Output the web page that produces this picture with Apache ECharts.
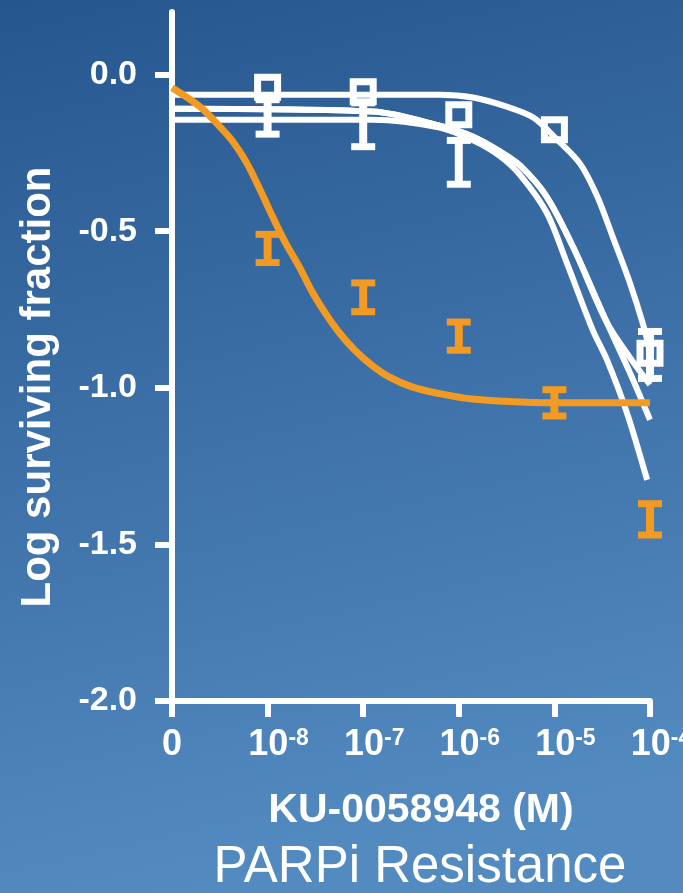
<!DOCTYPE html>
<html>
<head>
<meta charset="utf-8">
<script src="https://cdn.jsdelivr.net/npm/echarts@6/dist/echarts.min.js"></script>
<style>
  html, body { margin: 0; padding: 0; }
  #chart-container { width: 683px; height: 893px; }
</style>
</head>
<body>
<div id="chart-container"></div>
<script>
// x values are log10 of the dose; -9 stands for the "0" (no drug) position
var xTicks = [-9, -8, -7, -6, -5, -4];
var yTicks = [-2, -1.5, -1, -0.5, 0];

// fitted curves, [log10 dose, log surviving fraction]
var curveA = [[-9, -0.064], [-6.2, -0.064], [-5.85, -0.073], [-5.5, -0.102], [-5.22, -0.137],
  [-4.97, -0.208], [-4.73, -0.285], [-4.55, -0.39], [-4.39, -0.518], [-4.21, -0.665],
  [-4.07, -0.8], [-4, -0.885]];
var curveB = [[-9, -0.109], [-6.9, -0.118], [-6.2, -0.163], [-5.85, -0.198], [-5.57, -0.245],
  [-5.36, -0.29], [-5.08, -0.39], [-4.8, -0.553], [-4.45, -0.792], [-4.14, -0.933], [-4, -0.99]];
var curveC = [[-9, -0.109], [-6.9, -0.118], [-6.2, -0.163], [-5.85, -0.198], [-5.57, -0.245],
  [-5.36, -0.29], [-5.08, -0.39], [-4.8, -0.553], [-4.45, -0.792], [-4.21, -0.952], [-4, -1.102]];
var curveD = [[-9, -0.144], [-6.9, -0.144], [-6.2, -0.169], [-5.85, -0.21], [-5.57, -0.26],
  [-5.36, -0.32], [-5.08, -0.441], [-4.87, -0.601], [-4.6, -0.815], [-4.45, -0.911],
  [-4.24, -1.081], [-4.03, -1.294]];
var curveOrange = [[-9, -0.042], [-8.71, -0.102], [-8.5, -0.166], [-8.36, -0.215], [-8.22, -0.281],
  [-8.08, -0.367], [-7.95, -0.452], [-7.82, -0.533], [-7.67, -0.613], [-7.54, -0.69],
  [-7.4, -0.76], [-7.25, -0.824], [-7.09, -0.879], [-6.91, -0.928], [-6.73, -0.965],
  [-6.49, -0.997], [-6.21, -1.018], [-5.86, -1.036], [-5.05, -1.048], [-4, -1.048]];

// measured points
var squarePoints = [[-8, -0.04], [-7, -0.055], [-6, -0.128], [-5, -0.176], [-4, -0.89]];
// error bars, [log10 dose, low, high]
var whiteBars = [[-8, -0.19, -0.08], [-7, -0.23, -0.09], [-6, -0.35, -0.21], [-4, -0.97, -0.82]];
var orangeBars = [[-8, -0.6, -0.51], [-7, -0.757, -0.665], [-6, -0.88, -0.79],
  [-5, -1.09, -1.006], [-4, -1.47, -1.37]];

var WHITE = '#ffffff';
var ORANGE = '#f29a21';

var dom = document.getElementById('chart-container');
var myChart = echarts.init(dom, null, { renderer: 'canvas' });

function errorBar(params, api) {
  var x = api.value(0);
  var pLo = api.coord([x, api.value(1)]);
  var pHi = api.coord([x, api.value(2)]);
  var color = api.visual('color');
  return {
    type: 'group',
    children: [
      { type: 'rect', shape: { x: pLo[0] - 4, y: pHi[1], width: 8, height: pLo[1] - pHi[1] }, style: { fill: color } },
      { type: 'rect', shape: { x: pLo[0] - 12, y: pHi[1] - 3.5, width: 24, height: 7 }, style: { fill: color } },
      { type: 'rect', shape: { x: pLo[0] - 12, y: pLo[1] - 3.5, width: 24, height: 7 }, style: { fill: color } }
    ]
  };
}

function curve(data, color, width, z) {
  return {
    type: 'line',
    data: data,
    smooth: 0.3,
    showSymbol: false,
    silent: true,
    z: z,
    lineStyle: { color: color, width: width }
  };
}

var option = {
  animation: false,
  backgroundColor: new echarts.graphic.LinearGradient(0, 0, 0.3, 1, [
    { offset: 0, color: '#27568f' },
    { offset: 1, color: '#538bc1' }
  ]),
  grid: { left: 172, right: 33, top: 12, bottom: 192, outerBoundsMode: 'none' },
  xAxis: {
    type: 'value',
    min: -9,
    max: -4,
    interval: 1,
    splitLine: { show: false },
    axisLine: { onZero: false, lineStyle: { color: WHITE, width: 6 } },
    axisTick: { inside: false, length: 16, lineStyle: { color: WHITE, width: 6 } },
    axisLabel: {
      margin: 26,
      formatter: function (v) {
        if (v === -9) return '{n|0}';
        return '{s| }{n|10}{sup|' + v + '}';
      },
      rich: {
        n: { color: WHITE, fontSize: 36, fontWeight: 'bold', fontFamily: 'Liberation Sans', lineHeight: 36 },
        s: { width: 22, fontSize: 22, lineHeight: 36 },
        sup: { color: WHITE, fontSize: 23, fontWeight: 'bold', fontFamily: 'Liberation Sans', lineHeight: 23, verticalAlign: 'top' }
      }
    }
  },
  yAxis: {
    type: 'value',
    min: -2,
    max: 0.2,
    interval: 0.5,
    splitLine: { show: false },
    axisLine: { lineStyle: { color: WHITE, width: 6 } },
    axisTick: { inside: false, length: 17, customValues: yTicks, lineStyle: { color: WHITE, width: 6 } },
    axisLabel: {
      customValues: yTicks,
      margin: 35,
      color: WHITE,
      fontSize: 34,
      fontWeight: 'bold',
      fontFamily: 'Liberation Sans',
      formatter: function (v) { return v.toFixed(1); }
    }
  },
  graphic: [
    {
      type: 'text', x: 38, y: 387, rotation: Math.PI / 2,
      style: { text: 'Log surviving fraction', fill: WHITE, align: 'center', verticalAlign: 'middle',
        font: 'bold 42px "Liberation Sans"' }
    },
    {
      type: 'text', x: 421, y: 811,
      style: { text: 'KU-0058948 (M)', fill: WHITE, align: 'center', verticalAlign: 'middle',
        font: 'bold 41px "Liberation Sans"' }
    },
    {
      type: 'text', x: 420, y: 868,
      style: { text: 'PARPi Resistance', fill: WHITE, align: 'center', verticalAlign: 'middle',
        font: '51px "Liberation Sans"' }
    }
  ],
  series: [
    curve(curveA, WHITE, 6, 2),
    curve(curveB, WHITE, 6, 2),
    curve(curveC, WHITE, 6, 2),
    curve(curveD, WHITE, 6, 2),
    curve(curveOrange, ORANGE, 7, 4),
    {
      type: 'custom',
      renderItem: errorBar,
      data: whiteBars,
      encode: { x: 0, y: [1, 2] },
      itemStyle: { color: WHITE },
      z: 3
    },
    {
      type: 'scatter',
      data: squarePoints,
      symbol: 'rect',
      symbolSize: 20,
      itemStyle: { color: 'rgba(0,0,0,0)', borderColor: WHITE, borderWidth: 7, opacity: 1 },
      z: 3
    },
    {
      type: 'custom',
      renderItem: errorBar,
      data: orangeBars,
      encode: { x: 0, y: [1, 2] },
      itemStyle: { color: ORANGE },
      z: 5
    }
  ]
};

if (option && typeof option === 'object') {
  myChart.setOption(option);
}

window.addEventListener('resize', myChart.resize);
</script>
</body>
</html>
